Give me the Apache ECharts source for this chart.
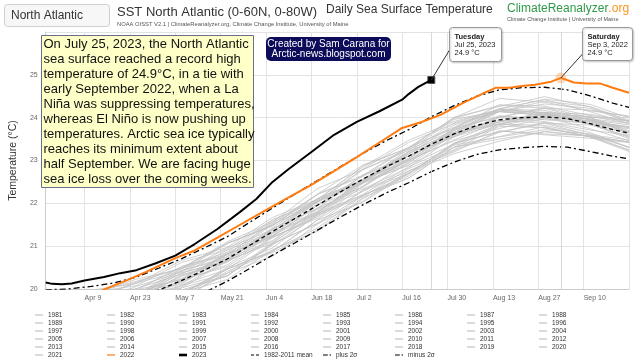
<!DOCTYPE html>
<html><head><meta charset="utf-8">
<script src="https://cdn.jsdelivr.net/npm/echarts@6/dist/echarts.min.js"></script>
<style>html,body{margin:0;padding:0;background:#fff}#c{width:639px;height:362px}</style>
</head><body><div id="c"></div>
<script>
// ---------- axis categories (daily, Mar 28 .. Sep 24) ----------
const monthNames = ['Jan','Feb','Mar','Apr','May','Jun','Jul','Aug','Sep','Oct','Nov','Dec'];
const startMonth = 2, startDay = 28, dayCount = 181;
const categories = [];
(function(){ const d = new Date(Date.UTC(2023, startMonth, startDay));
  for (let i = 0; i < dayCount; i++) { categories.push(monthNames[d.getUTCMonth()] + ' ' + d.getUTCDate()); d.setUTCDate(d.getUTCDate() + 1); } })();
const firstTick = 12, tickStep = 14;
const yTicks = [20, 21, 22, 23, 24, 25, 26];

// ---------- 2023 ----------
const days2023 = [0,2,5,8,12,18,23,28,34,40,46,53,60,65,70,75,82,89,96,103,110,112,115,119];
const vals2023 = [20.15,20.12,20.11,20.13,20.2,20.28,20.37,20.44,20.6,20.78,21.05,21.4,21.8,22.1,22.5,22.8,23.2,23.6,23.9,24.15,24.42,24.55,24.72,24.88];
// ---------- 2022 ----------
const days2022 = [14,19,25,31,40,46,53,60,67,74,82,89,96,103,110,116,122,129,136,139,143,147,151,156,159,163,167,171,175,180];
const vals2022 = [19.85,20.02,20.2,20.4,20.72,20.9,21.2,21.5,21.8,22.1,22.43,22.75,23.08,23.42,23.76,23.9,24.07,24.35,24.6,24.7,24.7,24.74,24.77,24.84,24.93,24.82,24.8,24.8,24.7,24.58];
// ---------- climatology ----------
const climDays = [0,7,14,21,28,35,42,49,56,63,70,77,84,91,98,105,112,119,126,133,140,147,154,161,168,175,180];
const meanVals = [19.48,19.5,19.56,19.64,19.78,19.98,20.2,20.44,20.7,21.02,21.34,21.65,21.96,22.27,22.57,22.85,23.1,23.38,23.62,23.82,23.95,24.0,24.02,23.98,23.86,23.72,23.64];
const plusVals = [19.98,20.0,20.06,20.14,20.28,20.49,20.71,20.96,21.22,21.56,21.89,22.22,22.54,22.86,23.17,23.46,23.72,24.02,24.28,24.5,24.65,24.7,24.71,24.65,24.51,24.34,24.24];
const minusVals = [18.98,19.0,19.06,19.14,19.28,19.47,19.69,19.92,20.18,20.48,20.79,21.08,21.38,21.68,21.97,22.24,22.48,22.74,22.96,23.14,23.25,23.3,23.33,23.31,23.21,23.1,23.04];

// ---------- other years (grey) ----------
const grayDays = [0,14,28,42,56,70,84,98,112,126,140,154,168,180];
const y1981 = [19.23,19.41,19.47,20.03,20.31,21.03,21.72,22.16,22.81,23.25,23.80,23.77,23.55,23.43];
const y1982 = [19.21,19.17,19.53,19.77,20.37,20.77,21.52,22.20,22.59,23.31,23.56,23.79,23.55,23.21];
const y1983 = [19.28,19.52,19.68,20.22,20.52,21.22,21.65,22.41,23.02,23.46,23.75,23.98,23.86,23.54];
const y1984 = [19.22,19.16,19.56,19.90,20.46,20.88,21.61,22.03,22.70,23.38,23.69,23.62,23.58,23.42];
const y1985 = [19.13,19.11,19.49,19.77,20.41,20.85,21.38,22.14,22.59,23.31,23.50,23.67,23.57,23.25];
const y1986 = [19.10,19.30,19.38,19.98,20.30,21.06,21.53,22.05,22.76,23.20,23.69,23.60,23.52,23.42];
const y1987 = [19.53,19.45,19.73,20.03,20.65,21.11,21.90,22.34,22.83,23.55,24.00,23.91,23.71,23.59];
const y1988 = [19.34,19.56,19.60,20.10,20.46,21.20,21.69,22.47,22.90,23.38,23.81,24.02,23.74,23.46];
const y1989 = [19.31,19.27,19.63,19.87,20.47,20.87,21.62,22.30,22.69,23.41,23.66,23.89,23.65,23.31];
const y1990 = [19.47,19.41,19.81,20.15,20.71,21.13,21.86,22.28,22.95,23.63,23.94,23.87,23.83,23.67];
const y1991 = [19.28,19.46,19.52,20.08,20.36,21.08,21.77,22.21,22.86,23.30,23.85,23.82,23.60,23.48];
const y1992 = [18.98,19.22,19.38,19.92,20.22,20.92,21.35,22.11,22.72,23.16,23.45,23.68,23.56,23.24];
const y1993 = [19.18,19.16,19.54,19.82,20.46,20.90,21.43,22.19,22.64,23.36,23.55,23.72,23.62,23.30];
const y1994 = [19.38,19.30,19.58,19.88,20.50,20.96,21.75,22.19,22.68,23.40,23.85,23.76,23.56,23.44];
const y1995 = [19.45,19.65,19.73,20.33,20.65,21.41,21.88,22.40,23.11,23.55,24.04,23.95,23.87,23.77];
const y1996 = [19.19,19.41,19.45,19.95,20.31,21.05,21.54,22.32,22.75,23.23,23.66,23.87,23.59,23.31];
const y1997 = [19.38,19.62,19.78,20.32,20.62,21.32,21.75,22.51,23.12,23.56,23.85,24.08,23.96,23.64];
const y1998 = [19.58,19.76,19.82,20.38,20.66,21.38,22.07,22.51,23.16,23.60,24.15,24.12,23.90,23.78];
const y1999 = [19.57,19.51,19.91,20.25,20.81,21.23,21.96,22.38,23.05,23.73,24.04,23.97,23.93,23.77];
const y2000 = [19.51,19.47,19.83,20.07,20.67,21.07,21.82,22.50,22.89,23.61,23.86,24.09,23.85,23.51];
const y2001 = [19.53,19.51,19.89,20.17,20.81,21.25,21.78,22.54,22.99,23.71,23.90,24.07,23.97,23.65];
const y2002 = [19.44,19.66,19.70,20.20,20.56,21.30,21.79,22.57,23.00,23.48,23.91,24.12,23.84,23.56];
const y2003 = [19.55,19.75,19.83,20.43,20.75,21.51,21.98,22.50,23.21,23.65,24.14,24.05,23.97,23.87];
const y2004 = [19.68,19.60,19.88,20.18,20.80,21.26,22.05,22.49,22.98,23.70,24.15,24.06,23.86,23.74];
const y2005 = [19.72,19.66,20.06,20.40,20.96,21.38,22.11,22.53,23.20,23.88,24.19,24.12,24.08,23.92];
const y2006 = [19.63,19.81,19.87,20.43,20.71,21.43,22.12,22.56,23.21,23.65,24.20,24.17,23.95,23.83];
const y2007 = [19.43,19.67,19.83,20.37,20.67,21.37,21.80,22.56,23.17,23.61,23.90,24.13,24.01,23.69];
const y2008 = [19.66,19.62,19.98,20.22,20.82,21.22,21.97,22.65,23.04,23.76,24.01,24.24,24.00,23.66];
const y2009 = [19.48,19.46,19.84,20.12,20.76,21.20,21.73,22.49,22.94,23.66,23.85,24.02,23.92,23.60];
const y2010 = [19.74,19.96,20.00,20.50,20.86,21.60,22.09,22.87,23.30,23.78,24.21,24.42,24.14,23.86];
const y2011 = [19.73,19.65,19.93,20.23,20.85,21.31,22.10,22.54,23.03,23.75,24.20,24.11,23.91,23.79];
const y2012 = [19.68,19.92,20.08,20.62,20.92,21.62,22.05,22.81,23.42,23.86,24.15,24.38,24.26,23.94];
const y2013 = [19.67,19.61,20.01,20.35,20.91,21.33,22.06,22.48,23.15,23.83,24.14,24.07,24.03,23.87];
const y2014 = [19.60,19.80,19.88,20.48,20.80,21.56,22.03,22.55,23.26,23.70,24.19,24.10,24.02,23.92];
const y2015 = [19.73,19.91,19.97,20.53,20.81,21.53,22.22,22.66,23.31,23.75,24.30,24.27,24.05,23.93];
const y2016 = [19.91,19.87,20.23,20.47,21.07,21.47,22.22,22.90,23.29,24.01,24.26,24.49,24.25,23.91];
const y2017 = [19.78,19.76,20.14,20.42,21.06,21.50,22.03,22.79,23.24,23.96,24.15,24.32,24.22,23.90];
const y2018 = [19.54,19.76,19.80,20.30,20.66,21.40,21.89,22.67,23.10,23.58,24.01,24.22,23.94,23.66];
const y2019 = [19.82,19.76,20.16,20.50,21.06,21.48,22.21,22.63,23.30,23.98,24.29,24.22,24.18,24.02];
const y2020 = [19.98,19.90,20.18,20.48,21.10,21.56,22.35,22.79,23.28,24.00,24.45,24.36,24.16,24.04];
const y2021 = [19.73,19.97,20.13,20.67,20.97,21.67,22.10,22.86,23.47,23.91,24.20,24.43,24.31,23.99];
const grayYears = ['1981','1982','1983','1984','1985','1986','1987','1988','1989','1990','1991','1992','1993','1994','1995','1996','1997','1998','1999','2000','2001','2002','2003','2004','2005','2006','2007','2008','2009','2010','2011','2012','2013','2014','2015','2016','2017','2018','2019','2020','2021'];
const grayValues = [y1981,y1982,y1983,y1984,y1985,y1986,y1987,y1988,y1989,y1990,y1991,y1992,y1993,y1994,y1995,y1996,y1997,y1998,y1999,y2000,y2001,y2002,y2003,y2004,y2005,y2006,y2007,y2008,y2009,y2010,y2011,y2012,y2013,y2014,y2015,y2016,y2017,y2018,y2019,y2020,y2021];

// ---------- annotations ----------
const note2023 = ['Tuesday', 'Jul 25, 2023', '24.9 °C'];
const note2022 = ['Saturday', 'Sep 3, 2022', '24.9 °C'];
const peak2022Day = 159;
const noteText = ['On July 25, 2023, the North Atlantic','sea surface reached a record high','temperature of 24.9°C, in a tie with','early September 2022, when a La','Niña was suppressing temperatures,','whereas El Niño is now pushing up','temperatures. Arctic sea ice typically','reaches its minimum extent about','half September. We are facing huge','sea ice loss over the coming weeks.'];

const FONT = '"Liberation Sans", Arial, sans-serif';
const GRAY = '#c4c4c4', ORANGE = '#ff7b0f';
const pairs = (d, v) => d.map((x, i) => [x, v[i]]);
const isTick = i => i >= firstTick && (i - firstTick) % tickStep === 0;

const series = [];
grayYears.forEach((yr, k) => series.push({
  name: yr, type: 'line', data: pairs(grayDays, grayValues[k]), symbol: 'none', z: 2,
  lineStyle: { color: GRAY, width: 0.8 }, itemStyle: { color: GRAY }
}));
series.push({
  name: '2022', type: 'line', data: pairs(days2022, vals2022), symbol: 'none', z: 5,
  lineStyle: { color: ORANGE, width: 2 }, itemStyle: { color: ORANGE },
  markPoint: { silent: true, symbol: 'circle', symbolSize: 11, label: { show: false },
    itemStyle: { color: 'rgba(255,150,60,0.35)' },
    data: [{ coord: [peak2022Day, vals2022[days2022.indexOf(peak2022Day)]] }] },
  markLine: { silent: true, symbol: 'none', label: { show: false },
    lineStyle: { color: '#d8d8d8', width: 1, type: 'solid' }, data: [{ xAxis: peak2022Day }] }
});
series.push({
  name: '2023', type: 'line', data: pairs(days2023, vals2023), symbol: 'none', z: 6,
  lineStyle: { color: '#000', width: 2 }, itemStyle: { color: '#000' },
  markPoint: { silent: true, symbol: 'rect', symbolSize: 7, label: { show: false },
    itemStyle: { color: '#000', borderColor: '#555', borderWidth: 1 },
    data: [{ coord: [days2023[days2023.length - 1], vals2023[vals2023.length - 1]] }] },
  markLine: { silent: true, symbol: 'none', label: { show: false },
    lineStyle: { color: '#d8d8d8', width: 1, type: 'solid' }, data: [{ xAxis: days2023[days2023.length - 1] }] }
});
series.push({ name: '1982-2011 mean', type: 'line', data: pairs(climDays, meanVals), symbol: 'none', z: 4,
  lineStyle: { color: '#000', width: 1.3, type: [4, 3] }, itemStyle: { color: '#000' } });
series.push({ name: 'plus 2σ', type: 'line', data: pairs(climDays, plusVals), symbol: 'none', z: 4,
  lineStyle: { color: '#000', width: 1.3, type: [6, 3, 2, 3] }, itemStyle: { color: '#000' } });
series.push({ name: 'minus 2σ', type: 'line', data: pairs(climDays, minusVals), symbol: 'none', z: 4,
  lineStyle: { color: '#000', width: 1.3, type: [6, 3, 2, 3] }, itemStyle: { color: '#000' } });

// ---------- legend: 8 columns ----------
const legendNames = series.map(s => s.name);
const iconFor = n => n === '1982-2011 mean' ? 'path://M0,0h3v1h-3zM5,0h3v1h-3z'
  : (n === 'plus 2σ' || n === 'minus 2σ') ? 'path://M0,0h4.5v1h-4.5zM6,0h1.4v1h-1.4z' : 'rect';
const legendBase = { orient: 'vertical', top: 311, itemGap: 0, itemWidth: 8, itemHeight: 1.2, padding: 0,
  selectedMode: false, textStyle: { fontSize: 6.5, color: '#333', lineHeight: 8, fontFamily: FONT } };
const legends = [];
for (let c = 0; c < 8; c++) {
  const names = legendNames.filter((n, i) => i % 8 === c && n !== '2023');
  legends.push(Object.assign({}, legendBase, { left: 35 + 72 * c, data: names.map(n => ({ name: n, icon: iconFor(n) })) }));
}
legends.push(Object.assign({}, legendBase, { left: 35 + 72 * 2, top: 311 + 40, itemHeight: 2.6, data: [{ name: '2023', icon: 'rect' }] }));

const chart = echarts.init(document.getElementById('c'), null, { renderer: 'canvas' });
chart.setOption({
  animation: false,
  textStyle: { fontFamily: FONT },
  grid: { left: 37, right: 10, top: 32, bottom: 73 },
  xAxis: {
    type: 'category', data: categories, boundaryGap: false,
    axisLine: { lineStyle: { color: '#ccc' } }, axisTick: { show: false },
    axisLabel: { interval: (i) => isTick(i) && i < dayCount - 1, align: 'left', fontSize: 7, color: '#666', margin: 6, fontFamily: FONT },
    splitLine: { show: true, interval: (i) => isTick(i), lineStyle: { color: '#e3e3e3' } }
  },
  yAxis: {
    type: 'value', min: yTicks[0], max: yTicks[yTicks.length - 1], interval: 1,
    name: 'Temperature (°C)', nameLocation: 'middle', nameGap: 21,
    nameTextStyle: { fontSize: 10.5, color: '#333', fontFamily: FONT },
    axisLine: { show: true, lineStyle: { color: '#ccc' } }, axisTick: { show: false },
    axisLabel: { fontSize: 7, color: '#666', margin: 8, showMaxLabel: false, fontFamily: FONT },
    splitLine: { lineStyle: { color: '#e3e3e3' } }
  },
  legend: legends,
  series: series
});

function pt(d, v) { return chart.convertToPixel({ xAxisIndex: 0, yAxisIndex: 0 }, [d, v]); }
const p23 = pt(days2023[days2023.length - 1], vals2023[vals2023.length - 1]);
const p22 = pt(peak2022Day, vals2022[days2022.indexOf(peak2022Day)]);

function callout(box, lines, anchor, target) {
  return [
    { type: 'line', z: 100, shape: { x1: target[0], y1: target[1], x2: anchor[0], y2: anchor[1] }, style: { stroke: '#333', lineWidth: 1 } },
    { type: 'rect', z: 101, shape: { x: box[0], y: box[1], width: box[2], height: box[3], r: 3 },
      style: { fill: '#fff', stroke: '#999', lineWidth: 1, shadowBlur: 2, shadowColor: 'rgba(0,0,0,0.2)', shadowOffsetX: 1, shadowOffsetY: 1 } },
    { type: 'text', z: 102, style: { x: box[0] + 5, y: box[1] + 5, text: '{b|' + lines[0] + '}\n' + lines[1] + '\n' + lines[2],
      font: '7.5px ' + FONT, fill: '#222', lineHeight: 8.2, rich: { b: { fontWeight: 'bold', fontSize: 7.5, lineHeight: 8.2, fill: '#222' } } } }
  ];
}

const graphics = [
  { type: 'rect', shape: { x: 4.5, y: 4.5, width: 105, height: 22, r: 3 }, style: { fill: '#f7f7f7', stroke: '#cfcfcf', lineWidth: 1 } },
  { type: 'text', style: { x: 11, y: 15.5, text: 'North Atlantic', font: '12px ' + FONT, fill: '#333', verticalAlign: 'middle' } },
  { type: 'text', style: { x: 117, y: 12, text: 'SST North Atlantic (0-60N, 0-80W)', font: '13px ' + FONT, fill: '#333', verticalAlign: 'middle' } },
  { type: 'text', style: { x: 117, y: 24.5, text: 'NOAA OISST V2.1 | ClimateReanalyzer.org, Climate Change Institute, University of Maine', font: '5.8px ' + FONT, fill: '#555', verticalAlign: 'middle' } },
  { type: 'text', style: { x: 326, y: 10, text: 'Daily Sea Surface Temperature', font: '12px ' + FONT, fill: '#333', verticalAlign: 'middle' } },
  { type: 'text', style: { x: 507, y: 8.5, text: '{g|ClimateReanalyzer}{o|.org}', font: '12px ' + FONT, verticalAlign: 'middle',
      rich: { g: { fill: '#2f9a48', fontSize: 12 }, o: { fill: '#f7941d', fontSize: 12 } } } },
  { type: 'text', style: { x: 507, y: 19.5, text: 'Climate Change Institute | University of Maine', font: '5.5px ' + FONT, fill: '#555', verticalAlign: 'middle' } },
  // note box
  { type: 'rect', z: 90, shape: { x: 41.5, y: 35.5, width: 212, height: 152 }, style: { fill: '#ffffc8', stroke: '#6b6f8c', lineWidth: 1 } },
  { type: 'text', z: 91, style: { x: 43.5, y: 37, text: noteText.join('\n'), font: '13px ' + FONT, fill: '#111', lineHeight: 15 } },
  // credit box
  { type: 'rect', z: 90, shape: { x: 266, y: 37, width: 125, height: 24, r: 5 }, style: { fill: '#0c0c5a' } },
  { type: 'text', z: 91, style: { x: 328.5, y: 49, text: 'Created by Sam Carana for\nArctic-news.blogspot.com', font: '10px ' + FONT, fill: '#fff', align: 'center', verticalAlign: 'middle', lineHeight: 10 } }
].concat(
  callout([449.5, 27.5, 52, 34], note2023, [449.5, 50], p23),
  callout([582.5, 27.5, 50, 33], note2022, [582.5, 54], p22)
);
chart.setOption({ graphic: graphics });
</script>
</body></html>
